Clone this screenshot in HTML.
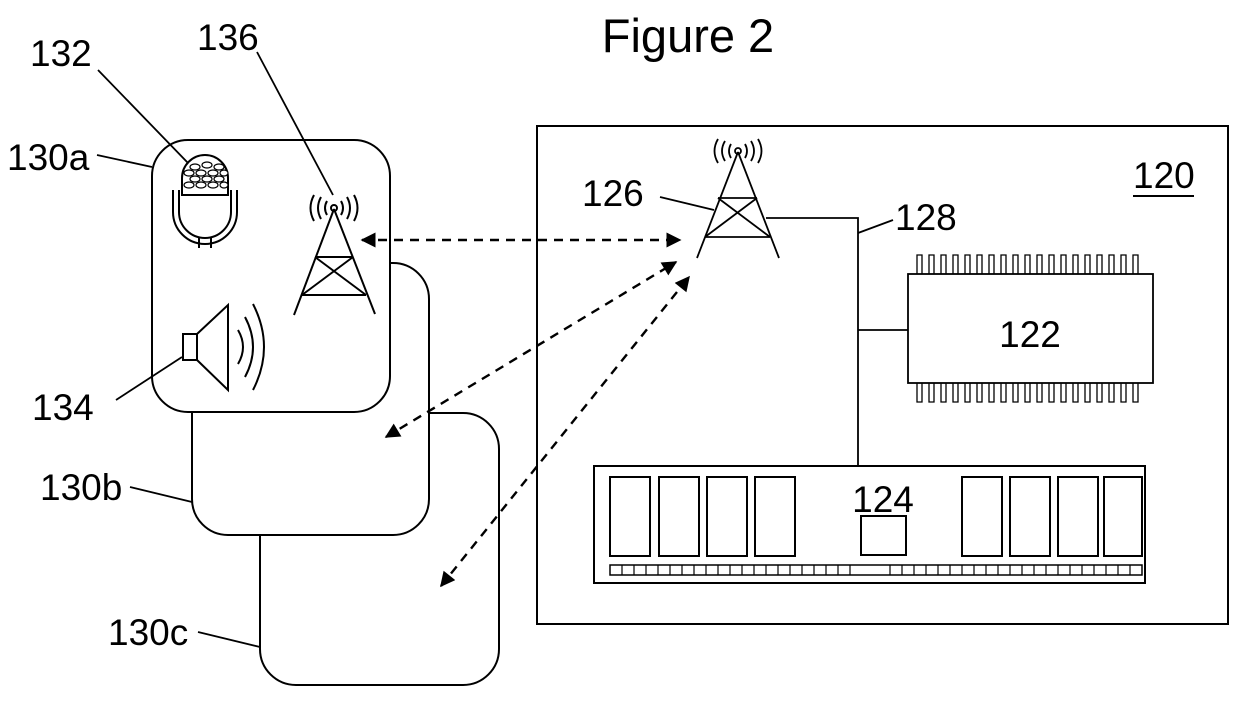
<!DOCTYPE html>
<html><head><meta charset="utf-8"><style>
html,body{margin:0;padding:0;background:#fff;}
svg{display:block;}
text{font-family:"Liberation Sans",sans-serif;fill:#000;}
</style></head><body>
<svg width="1240" height="707" viewBox="0 0 1240 707" xmlns="http://www.w3.org/2000/svg">
<defs>
<marker id="ah" viewBox="0 0 10 10" refX="9" refY="5" markerWidth="17" markerHeight="15" markerUnits="userSpaceOnUse" orient="auto-start-reverse">
<path d="M0,0 L10,5 L0,10 z" fill="#000"/></marker>
</defs>
<g fill="none" stroke="#000" stroke-width="2">
<rect x="537" y="126" width="691" height="498"/>
<rect x="260" y="413" width="239" height="272" rx="36" fill="#fff"/>
<rect x="192" y="263" width="237" height="272" rx="36" fill="#fff"/>
<rect x="152" y="140" width="238" height="272" rx="36" fill="#fff"/>
</g>
<text x="688" y="52" font-size="47" text-anchor="middle">Figure 2</text>
<g font-size="37">
<text x="30" y="66">132</text>
<text x="197" y="50">136</text>
<text x="7" y="170">130a</text>
<text x="32" y="420">134</text>
<text x="40" y="500">130b</text>
<text x="108" y="645">130c</text>
<text x="582" y="206">126</text>
<text x="895" y="230">128</text>
<text x="1133" y="188">120</text>
<text x="1030" y="347" text-anchor="middle">122</text>
<text x="883" y="512" text-anchor="middle">124</text>
</g>
<g fill="none" stroke="#000" stroke-width="1.8">
<line x1="1133" y1="196" x2="1194" y2="196" stroke-width="2"/>
<line x1="98" y1="70" x2="188" y2="163"/>
<line x1="257" y1="52" x2="333" y2="195"/>
<line x1="97" y1="155" x2="152" y2="167"/>
<line x1="116" y1="400" x2="182" y2="357"/>
<line x1="130" y1="487" x2="192" y2="502"/>
<line x1="198" y1="632" x2="260" y2="647"/>
<line x1="660" y1="197" x2="714" y2="210"/>
<line x1="858" y1="233" x2="893" y2="220"/>
<line x1="738" y1="152" x2="697" y2="258"/>
<line x1="738" y1="152" x2="779" y2="258"/>
<line x1="718" y1="198" x2="757" y2="198"/>
<line x1="705" y1="237" x2="770" y2="237"/>
<line x1="718" y1="198" x2="770" y2="237"/>
<line x1="757" y1="198" x2="705" y2="237"/>
<circle cx="738" cy="151" r="3"/>
<path d="M731,144 q-4,7 0,14 M725,141 q-6,10 0,20 M718,139 q-7,12 0,24 M745,144 q4,7 0,14 M751,141 q6,10 0,20 M758,139 q7,12 0,24"/>
<polyline points="766,218 858,218 858,466"/>
<line x1="858" y1="330" x2="908" y2="330"/>
<rect x="908" y="274" width="245" height="109"/>
</g>
<g fill="none" stroke="#000" stroke-width="1.3">
<path d="M917,274 v-19 h5 v19 M929,274 v-19 h5 v19 M941,274 v-19 h5 v19 M953,274 v-19 h5 v19 M965,274 v-19 h5 v19 M977,274 v-19 h5 v19 M989,274 v-19 h5 v19 M1001,274 v-19 h5 v19 M1013,274 v-19 h5 v19 M1025,274 v-19 h5 v19 M1037,274 v-19 h5 v19 M1049,274 v-19 h5 v19 M1061,274 v-19 h5 v19 M1073,274 v-19 h5 v19 M1085,274 v-19 h5 v19 M1097,274 v-19 h5 v19 M1109,274 v-19 h5 v19 M1121,274 v-19 h5 v19 M1133,274 v-19 h5 v19"/>
<path d="M917,383 v19 h5 v-19 M929,383 v19 h5 v-19 M941,383 v19 h5 v-19 M953,383 v19 h5 v-19 M965,383 v19 h5 v-19 M977,383 v19 h5 v-19 M989,383 v19 h5 v-19 M1001,383 v19 h5 v-19 M1013,383 v19 h5 v-19 M1025,383 v19 h5 v-19 M1037,383 v19 h5 v-19 M1049,383 v19 h5 v-19 M1061,383 v19 h5 v-19 M1073,383 v19 h5 v-19 M1085,383 v19 h5 v-19 M1097,383 v19 h5 v-19 M1109,383 v19 h5 v-19 M1121,383 v19 h5 v-19 M1133,383 v19 h5 v-19"/>
</g>
<g fill="none" stroke="#000" stroke-width="2">
<rect x="594" y="466" width="551" height="117"/>
<rect x="610" y="477" width="40" height="79"/>
<rect x="659" y="477" width="40" height="79"/>
<rect x="707" y="477" width="40" height="79"/>
<rect x="755" y="477" width="40" height="79"/>
<rect x="962" y="477" width="40" height="79"/>
<rect x="1010" y="477" width="40" height="79"/>
<rect x="1058" y="477" width="40" height="79"/>
<rect x="1104" y="477" width="38" height="79"/>
<rect x="861" y="516" width="45" height="39"/>
<rect x="610" y="565" width="532" height="10" stroke-width="1.5"/>
</g>
<path d="M622,565 v10 M634,565 v10 M646,565 v10 M658,565 v10 M670,565 v10 M682,565 v10 M694,565 v10 M706,565 v10 M718,565 v10 M730,565 v10 M742,565 v10 M754,565 v10 M766,565 v10 M778,565 v10 M790,565 v10 M802,565 v10 M814,565 v10 M826,565 v10 M838,565 v10 M850,565 v10 M890,565 v10 M902,565 v10 M914,565 v10 M926,565 v10 M938,565 v10 M950,565 v10 M962,565 v10 M974,565 v10 M986,565 v10 M998,565 v10 M1010,565 v10 M1022,565 v10 M1034,565 v10 M1046,565 v10 M1058,565 v10 M1070,565 v10 M1082,565 v10 M1094,565 v10 M1106,565 v10 M1118,565 v10 M1130,565 v10" stroke="#000" stroke-width="1.2"/>
<g fill="none" stroke="#000" stroke-width="2">
<line x1="334" y1="209" x2="294" y2="315"/>
<line x1="334" y1="209" x2="375" y2="314"/>
<line x1="315" y1="257" x2="353" y2="257"/>
<line x1="302" y1="295" x2="366" y2="295"/>
<line x1="315" y1="257" x2="366" y2="295"/>
<line x1="353" y1="257" x2="302" y2="295"/>
<circle cx="334" cy="208" r="3"/>
<path d="M327,201 q-4,7 0,14 M321,197 q-6,11 0,22 M314,195 q-7,13 0,26 M341,201 q4,7 0,14 M347,197 q6,11 0,22 M354,195 q7,13 0,26"/>
<path d="M182,195 v-17 a23,23 0 0 1 46,0 v17 z"/>
<path d="M173,190 v22 a32,32 0 0 0 64,0 v-22"/>
<path d="M179,190 v22 a26,26 0 0 0 52,0 v-22"/>
<line x1="199" y1="238" x2="199" y2="248"/>
<line x1="211" y1="238" x2="211" y2="248"/>
<rect x="183" y="334" width="14" height="26"/>
<path d="M197,334 L228,305 L228,390 L197,360"/>
<path d="M238,330 q10,17 0,34 M245,317 q16,30 0,60 M253,304 q22,43 0,86"/>
</g>
<g fill="#fff" stroke="#000" stroke-width="1.2">
<ellipse cx="195" cy="167" rx="5" ry="3"/><ellipse cx="207" cy="165" rx="5" ry="3"/><ellipse cx="219" cy="167" rx="5" ry="3"/>
<ellipse cx="189" cy="173" rx="5" ry="3"/><ellipse cx="201" cy="173" rx="5" ry="3"/><ellipse cx="213" cy="173" rx="5" ry="3"/><ellipse cx="224" cy="173" rx="4" ry="3"/>
<ellipse cx="195" cy="179" rx="5" ry="3"/><ellipse cx="207" cy="179" rx="5" ry="3"/><ellipse cx="219" cy="179" rx="5" ry="3"/>
<ellipse cx="189" cy="185" rx="5" ry="3"/><ellipse cx="201" cy="185" rx="5" ry="3"/><ellipse cx="213" cy="185" rx="5" ry="3"/><ellipse cx="224" cy="185" rx="4" ry="3"/>
</g>
<g fill="none" stroke="#000" stroke-width="2.4" stroke-dasharray="9,7">
<line x1="362" y1="240" x2="680" y2="240" marker-start="url(#ah)" marker-end="url(#ah)"/>
<line x1="386" y1="437" x2="676" y2="262" marker-start="url(#ah)" marker-end="url(#ah)"/>
<line x1="441" y1="586" x2="689" y2="277" marker-start="url(#ah)" marker-end="url(#ah)"/>
</g>
</svg>
</body></html>
